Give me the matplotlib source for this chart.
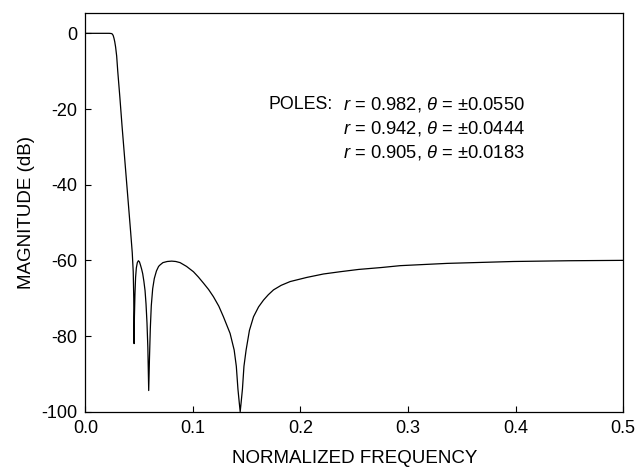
import matplotlib
matplotlib.use('Agg')
import matplotlib.pyplot as plt

plt.rcParams['font.family'] = ['Liberation Sans', 'DejaVu Sans']
plt.rcParams['mathtext.fontset'] = 'custom'
plt.rcParams['mathtext.rm'] = 'Liberation Sans'
plt.rcParams['mathtext.it'] = 'Liberation Sans:italic'

# magnitude response
freq = [0.000, 0.022, 0.024, 0.025, 0.0258, 0.0265, 0.0272, 0.028, 0.029,
        0.030, 0.032, 0.034, 0.036, 0.038, 0.040, 0.042, 0.0435, 0.0444,
        0.0449, 0.0452, 0.0455, 0.0460, 0.0466, 0.0473, 0.0482, 0.0492,
        0.0502, 0.0512, 0.0522, 0.0532, 0.0543, 0.0554, 0.0563, 0.0572,
        0.0580, 0.0588, 0.0595, 0.0603, 0.0612, 0.0625, 0.0640, 0.0660,
        0.0680, 0.0694, 0.0720, 0.0760, 0.0802, 0.0840, 0.088, 0.094,
        0.1004, 0.1050, 0.1097, 0.1145, 0.119, 0.1240, 0.1283, 0.1345,
        0.1383, 0.1403, 0.1418, 0.1430, 0.1439, 0.1448, 0.1460, 0.1474,
        0.1494, 0.1525, 0.1563, 0.1610, 0.1656, 0.1700, 0.1749, 0.1820,
        0.1904, 0.206, 0.2214, 0.237, 0.254, 0.275, 0.2928, 0.3363, 0.398,
        0.450, 0.500]
mag_db = [0.0, 0.0, -0.05, -0.2, -0.6, -1.3, -2.2, -3.6, -6.0,
          -10.0, -17.0, -24.5, -31.5, -38.5, -45.5, -52.5, -58.0, -63.0,
          -70.0, -82.0, -75.0, -69.0, -64.5, -62.0, -60.6, -60.1,
          -60.4, -61.3, -62.3, -63.5, -65.5, -68.0, -71.5, -76.5,
          -83.0, -94.4, -86.0, -78.0, -72.0, -67.5, -64.8, -62.8,
          -61.6, -61.2, -60.6, -60.3, -60.2, -60.3, -60.6, -61.6,
          -63.0, -64.4, -66.0, -67.7, -69.6, -72.1, -74.9, -79.3,
          -83.7, -88.0, -94.0, -97.5, -100.0, -97.5, -94.0, -88.0,
          -83.7, -78.5, -74.9, -72.3, -70.5, -69.1, -67.8, -66.6,
          -65.6, -64.5, -63.6, -63.0, -62.4, -61.9, -61.4, -60.8, -60.3,
          -60.1, -60.0]

pole_r = ['0.982', '0.942', '0.905']
pole_theta = ['0.0550', '0.0444', '0.0183']

xticks = [0.0, 0.1, 0.2, 0.3, 0.4, 0.5]
yticks = [0, -20, -40, -60, -80, -100]

fig = plt.figure(figsize=(6.38, 4.74), dpi=100)
ax = fig.add_axes([0.134, 0.1314, 0.8425, 0.8406])
ax.plot(freq, mag_db, color='black', linewidth=0.9)

ax.set_xlim(0, 0.5)
ax.set_ylim(-100, 5.3)
ax.set_xticks(xticks)
ax.set_xticklabels(['%.1f' % t for t in xticks])
ax.set_yticks(yticks)
ax.set_yticklabels(['%d' % t for t in yticks])
ax.tick_params(direction='in', length=4, width=0.8, labelsize=13, pad=6)
for s in ax.spines.values():
    s.set_linewidth(0.9)

ax.set_xlabel('NORMALIZED FREQUENCY', fontsize=13.5, labelpad=9)
ax.set_ylabel('MAGNITUDE (dB)', fontsize=13.5, labelpad=4)

ax.text(0.170, -18.8, 'POLES:', fontsize=12.8, va='center', ha='left')
for i in range(len(pole_r)):
    ax.text(0.240, -18.8 - 6.34 * i,
            r'$r$ = %s, $\theta$ = ±%s' % (pole_r[i], pole_theta[i]),
            fontsize=13.2, va='center', ha='left')

fig.savefig('out.png', dpi=100)
